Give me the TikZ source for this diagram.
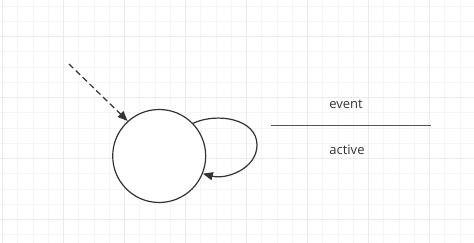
\documentclass[tikz,border=0pt]{standalone}
\usepackage{fontspec}
\setmainfont{Open Sans}
\usetikzlibrary{arrows.meta}
\definecolor{gridmajor}{HTML}{EBEBEB}
\definecolor{gridminor}{HTML}{F5F5F5}
\definecolor{ink}{HTML}{333333}
\definecolor{rule}{HTML}{555555}

\begin{document}
\begin{tikzpicture}[line cap=butt,line join=round,x=1pt,y=1pt,>={Triangle[length=10pt,width=8pt]}]
		\useasboundingbox (0,0) rectangle (474,243);
		\clip (0,0) rectangle (474,243);
		% background grid
		\foreach \k in {0,...,31}
			\draw [gridminor,line width=1pt] ({floor(2.5+15.25*\k)+0.5},0) -- ++(0,243);
		\foreach \k in {0,...,15}
			\draw [gridminor,line width=1pt] (0,{243-floor(6+15.25*\k)-0.5}) -- ++(474,0);
		\foreach \k in {0,...,7}
			\draw [gridmajor,line width=1pt] ({2.5+61*\k},0) -- ++(0,243);
		\foreach \k in {0,...,3}
			\draw [gridmajor,line width=1pt] (0,{243-36.5-61*\k}) -- ++(474,0);
		% state with initial and self transition
		\node [draw=ink,line width=1.2pt,circle,minimum size=93pt,inner sep=0pt,fill=white] (st) at (159.2,87) {};
		\coordinate (init) at (69,179);
		\coordinate (loopR) at (257,98);
		\draw [ink,line width=1.2pt,dash pattern=on 6pt off 3.5pt,->] (init) -- (st.132);
		\draw [ink,line width=1.2pt,->] (st.44) to[out=25,in=90] (loopR) to[out=-90,in=-15] (st.-22);
		% transition label
		\coordinate (sepL) at (271,117.3);
		\coordinate (sepR) at (430.7,117.3);
		\draw [rule,line width=1.6pt] (sepL) -- (sepR);
		\begin{scope}[every node/.style={ink,font=\fontsize{13}{15}\selectfont}]
			\node (ev) at (346,138.3) {event};
			\node (act) at (347,93.3) {active};
		\end{scope}
	\end{tikzpicture}
\end{document}
